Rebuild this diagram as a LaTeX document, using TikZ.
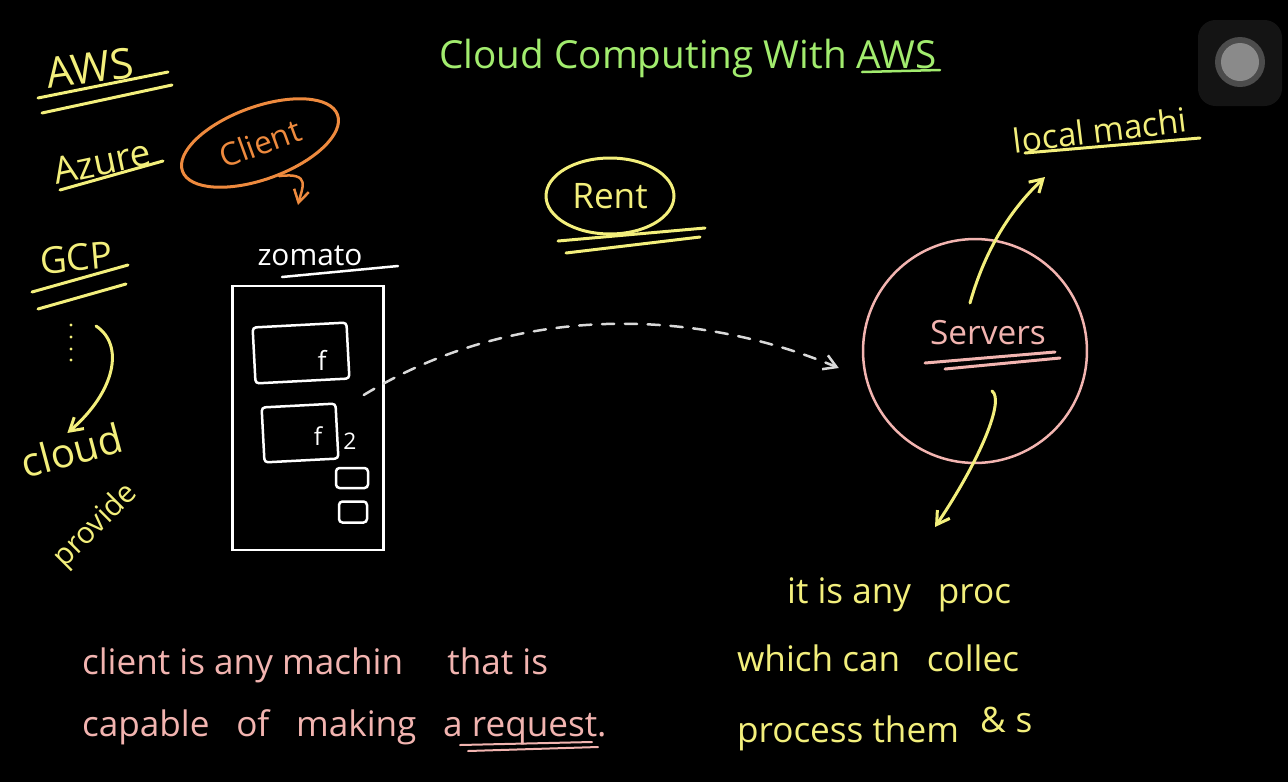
\documentclass[tikz,border=0pt]{standalone}
\usepackage{fontspec}
\setmainfont{Open Sans}
\usepackage{tikz}
\usetikzlibrary{arrows.meta,shapes.geometric}
\definecolor{chalkyellow}{HTML}{F3EF7C}
\definecolor{chalkgreen}{HTML}{A2EC6E}
\definecolor{chalkpink}{HTML}{F2B4B0}
\definecolor{chalkorange}{HTML}{EE8A3E}
\definecolor{btngray}{HTML}{8A8A8A}
\tikzset{
  ink/.style={line width=0.6mm, line cap=round},
  hand/.style={inner sep=1pt, font=\fontsize{#1}{#1}\selectfont},
  hand/.default=20,
  box/.style={draw=white, line width=0.5mm, inner sep=0pt},
}

\begin{document}
\begin{tikzpicture}[x=0.02cm, y=-0.02cm, >={Straight Barb[length=2.5mm, width=3mm]}]
\fill[black] (0,0) rectangle (1288,782);
\useasboundingbox (0,0) rectangle (1288,782);

% title
\node[hand=22, text=chalkgreen] (title) at (688,58) {Cloud Computing With AWS};
\draw[ink, chalkgreen, line width=0.5mm] (862,72) -- (940,70);

% providers on the left
\node[hand=24, text=chalkyellow, rotate=8] (aws) at (90,68) {AWS};
\draw[ink, chalkyellow] (38,98) -- (168,72);
\draw[ink, chalkyellow] (42,113) -- (172,85);
\node[hand=21, text=chalkyellow, rotate=12] (azure) at (102,162) {Azure};
\draw[ink, chalkyellow] (60,190) -- (163,161);
\node[hand=21, text=chalkyellow, rotate=5] (gcp) at (76,258) {GCP};
\draw[ink, chalkyellow] (32,292) -- (128,265);
\draw[ink, chalkyellow] (38,309) -- (126,284);
\foreach \y in {325,337,349,360}
  \fill[chalkyellow] (71,\y) circle (1.6);
\coordinate (more) at (96,326);
\node[hand=23, text=chalkyellow, rotate=15] (cloud) at (72,450) {cloud};
\node[hand=17, text=chalkyellow, rotate=45] (provide) at (96,526) {provide};
\draw[->, ink, chalkyellow] (more) .. controls (125,345) and (115,392) .. (cloud.north);

% client
\node[ellipse, draw=chalkorange, ink, minimum width=3.3cm, minimum height=1.45cm,
      rotate=20, hand=18, text=chalkorange] (client) at (260,143) {Client};
\coordinate (clientto) at (298,205);
\draw[->, ink, chalkorange, line width=0.5mm] (client.-80) .. controls (312,172) and (302,188) .. (clientto);

% zomato phone
\node[hand=17, text=white] (zomato) at (310,256) {zomato};
\draw[ink, white, line width=0.5mm] (282,277) -- (398,266);
\node[box, minimum width=3.02cm, minimum height=5.28cm] (phone) at (308,418) {};
\node[box, rounded corners=2pt, minimum width=1.88cm, minimum height=1.12cm, rotate=3] (card1) at (301,353) {};
\node[hand=15, text=white] (f1) at (322,360) {f};
\node[box, rounded corners=2pt, minimum width=1.48cm, minimum height=1.1cm, rotate=3] (card2) at (300,433) {};
\node[hand=14, text=white] (f2) at (318,436) {f};
\node[hand=13, text=white] (two) at (350,441) {2};
\node[box, rounded corners=2pt, minimum width=0.64cm, minimum height=0.4cm] (btn1) at (352,478) {};
\node[box, rounded corners=2pt, minimum width=0.56cm, minimum height=0.42cm] (btn2) at (353,512) {};

% rent
\node[ellipse, draw=chalkyellow, ink, minimum width=2.56cm, minimum height=1.52cm,
      hand=20, text=chalkyellow] (rent) at (610,196) {Rent};
\draw[ink, chalkyellow] (558,241) -- (705,228);
\draw[ink, chalkyellow] (566,253) -- (700,237);

% servers
\node[circle, draw=chalkpink, line width=0.5mm, minimum size=4.48cm, inner sep=0pt] (servers) at (975,351) {};
\node[hand=19, text=chalkpink] (serverstext) at (988,333) {Servers};
\draw[ink, chalkpink] (925,363) -- (1055,352);
\draw[ink, chalkpink] (945,369) -- (1060,358);
\draw[->, ink, white!85!black, line width=0.5mm, dash pattern=on 7pt off 6pt]
  ([xshift=-0.42cm, yshift=0.46cm]phone.east) .. controls (520,300) and (700,310) .. ([xshift=-0.46cm, yshift=-0.34cm]servers.west);

% local machine
\node[hand=19, text=chalkyellow, rotate=7] (local) at (1100,130) {local machi};
\draw[ink, chalkyellow] (1025,153) -- (1200,138);
\coordinate (localto) at (1045,177);
\coordinate (srvtop) at (970,303);
\coordinate (srvbot) at (992,391);
\coordinate (down) at (935,527);
\draw[->, ink, chalkyellow] (srvtop) .. controls (985,250) and (1010,210) .. (localto);
\draw[->, ink, chalkyellow] (srvbot) .. controls (1005,400) and (980,460) .. (down);

% definitions
\node[hand=20, text=chalkpink, anchor=west] (clientdef1) at (80,665) {client is any machin \quad that is};
\node[hand=20, text=chalkpink, anchor=west] (clientdef2) at (80,727) {capable \enspace of \enspace making \enspace a request.};
\draw[ink, chalkpink, line width=0.4mm] (460,745) -- (592,742);
\draw[ink, chalkpink, line width=0.4mm] (468,751) -- (598,747);
\node[hand=20, text=chalkyellow, anchor=west] (srvdef1) at (785,595) {it is any \enspace proc};
\node[hand=20, text=chalkyellow, anchor=west] (srvdef2) at (735,658) {which can \enspace collec};
\node[hand=20, text=chalkyellow, anchor=west] (srvdef3) at (735,733) {process them};
\node[hand=20, text=chalkyellow, anchor=west] (srvdef4) at (978,720) {\&\;s};

% recorder button
\fill[black!92!white, rounded corners=10pt] (1198,20) rectangle (1282,106);
\fill[btngray!55!black] (1240,62) circle (25);
\fill[btngray] (1240,62) circle (19);
\end{tikzpicture}
\end{document}
